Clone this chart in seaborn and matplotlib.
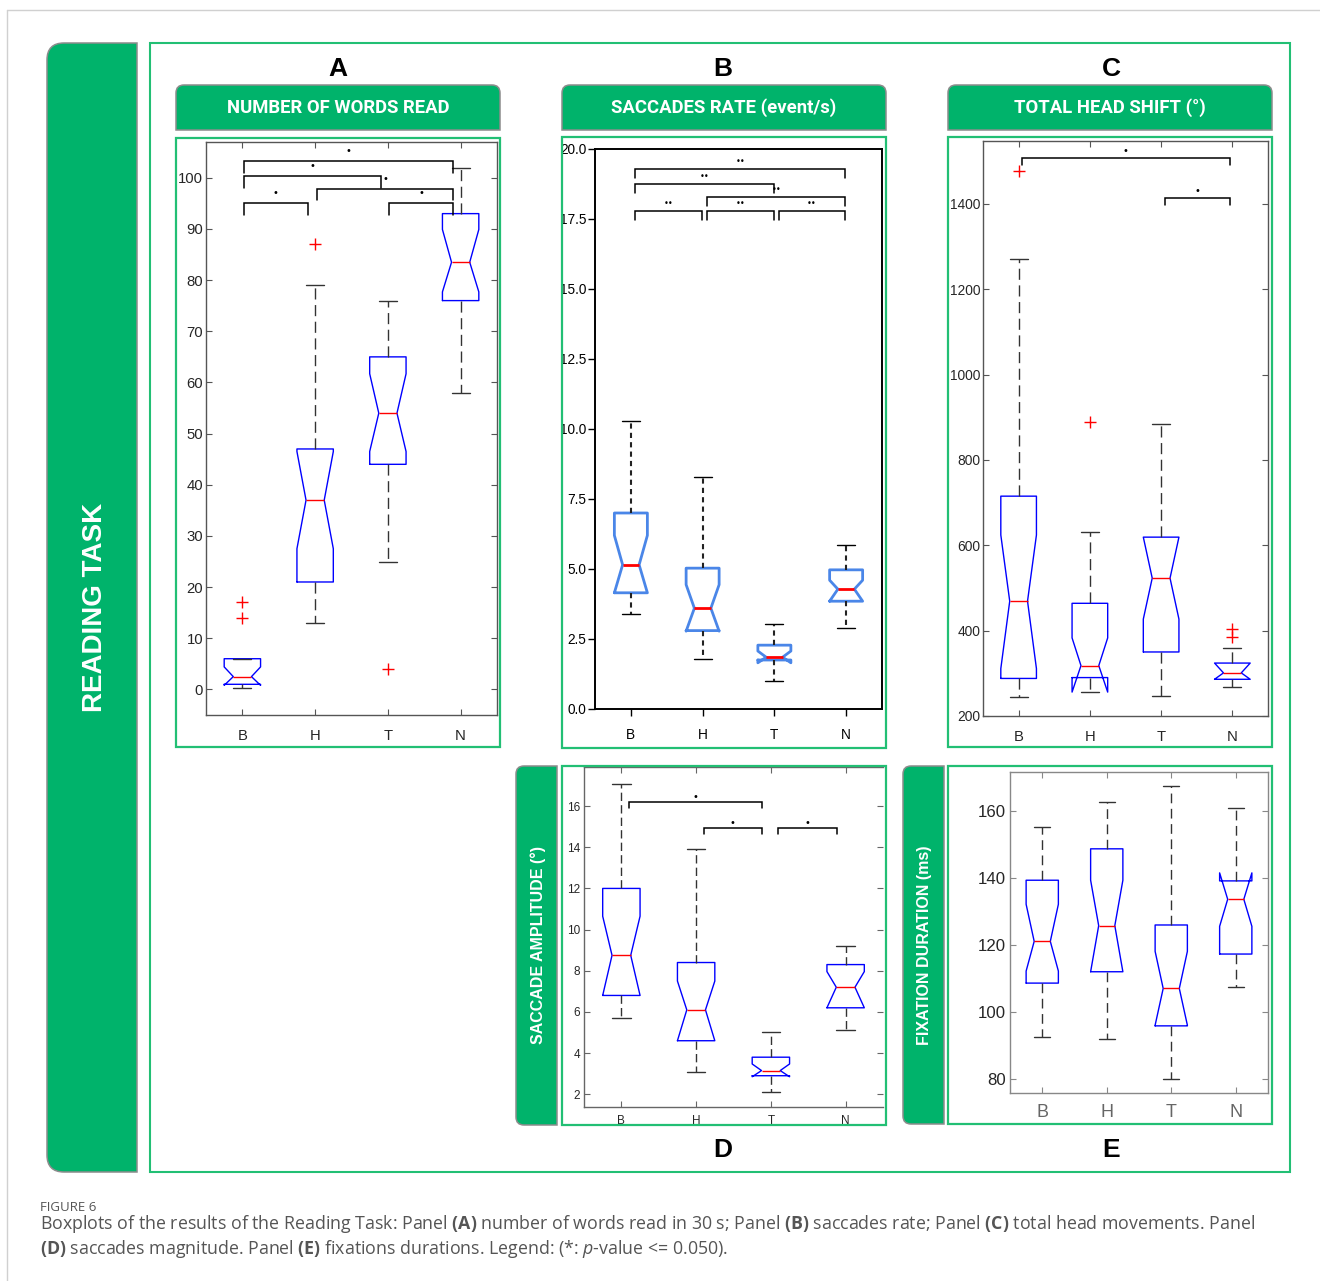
import matplotlib
matplotlib.use("Agg")
import numpy as np
import pandas as pd
import seaborn as sns
import matplotlib.pyplot as plt
from matplotlib.path import Path
from matplotlib.patches import PathPatch, Rectangle
from matplotlib import font_manager as fm

# ---------------- data ----------------
groups = ["B", "H", "T", "N"]

# Panel A: number of words read
words_whislo = [0.2, 13, 25, 58]
words_q1 = [1.0, 21, 44, 76]
words_med = [2.5, 37, 54, 83.5]
words_q3 = [6.0, 47, 65, 93]
words_whishi = [6.0, 79, 76, 102]
words_cilo = [0.8, 27.5, 46.5, 77.7]
words_cihi = [4.4, 46.5, 61.7, 89.9]
words_fliers = [[14, 17], [87], [4], []]
words_pairs = [("B", "N"), ("B", "T"), ("H", "N"), ("B", "H"), ("T", "N")]
words_sig_y = [103.2, 100.3, 97.8, 95.0, 95.0]
words_sig = ["*", "*", "*", "*", "*"]

# Panel B: saccades rate
rate_whislo = [3.4, 1.8, 1.0, 2.9]
rate_q1 = [4.15, 2.8, 1.75, 3.85]
rate_med = [5.15, 3.6, 1.85, 4.28]
rate_q3 = [7.0, 5.03, 2.28, 4.97]
rate_whishi = [10.3, 8.28, 3.05, 5.87]
rate_cilo = [4.15, 2.78, 1.65, 3.85]
rate_cihi = [6.2, 4.44, 2.07, 4.6]
rate_fliers = [[], [], [], []]
rate_pairs = [("B", "N"), ("B", "T"), ("H", "N"), ("B", "H"), ("H", "T"), ("T", "N")]
rate_sig_y = [19.3, 18.75, 18.3, 17.8, 17.8, 17.8]
rate_sig = ["**"] * 6

# Panel C: total head shift
head_whislo = [244, 256, 248, 267]
head_q1 = [288, 290, 350, 286]
head_med = [469, 318, 523, 301]
head_q3 = [715, 464, 619, 324]
head_whishi = [1271, 631, 883, 359]
head_cilo = [311, 256, 427, 286]
head_cihi = [624, 383, 619, 324]
head_fliers = [[1476], [888], [], [386, 404]]
head_pairs = [("B", "N"), ("T", "N")]
head_sig_y = [1508, 1414]
head_sig = ["*", "*"]

# Panel D: saccade amplitude
amp_whislo = [5.7, 3.1, 2.1, 5.1]
amp_q1 = [6.8, 4.6, 2.9, 6.2]
amp_med = [8.75, 6.1, 3.15, 7.2]
amp_q3 = [12.0, 8.4, 3.8, 8.3]
amp_whishi = [17.05, 13.9, 5.0, 9.2]
amp_cilo = [6.8, 4.6, 2.85, 6.2]
amp_cihi = [10.65, 7.5, 3.47, 7.96]
amp_fliers = [[], [], [], []]
amp_pairs = [("B", "T"), ("H", "T"), ("T", "N")]
amp_sig_y = [16.2, 14.95, 14.95]
amp_sig = ["*", "*", "*"]

# Panel E: fixation duration
fix_whislo = [92.6, 91.9, 80.0, 107.4]
fix_q1 = [108.6, 112.0, 95.8, 117.3]
fix_med = [121.1, 125.8, 107.0, 133.7]
fix_q3 = [139.4, 148.8, 126.0, 139.2]
fix_whishi = [155.3, 162.8, 167.5, 161.1]
fix_cilo = [112.2, 112.0, 96.0, 125.6]
fix_cihi = [132.2, 139.4, 118.1, 141.6]
fix_fliers = [[], [], [], []]

# ---------------- style ----------------
sns.set_theme(style="white")
plt.rcParams["font.family"] = ["Liberation Sans", "DejaVu Sans"]
plt.rcParams["mathtext.fontset"] = "custom"
plt.rcParams["mathtext.rm"] = "Open Sans"
plt.rcParams["mathtext.bf"] = "Open Sans:bold"
plt.rcParams["mathtext.it"] = "Open Sans:italic"

names = {f.name for f in fm.fontManager.ttflist}
HAS_NARROW = "Liberation Sans Narrow" in names
NARROW = "Liberation Sans Narrow" if HAS_NARROW else "Liberation Sans"
NS = 1.0 if HAS_NARROW else 0.93  # size factor for narrow labels

GREEN = "#00b36b"
FRAME = "#22bf74"
EDGE = "#8c8c8c"

W, H = 1320, 1281
fig = plt.figure(figsize=(W / 100, H / 100), dpi=100)
fig.patch.set_facecolor("white")


def rect(x0, y0, x1, y1):
    return [x0 / W, 1 - y1 / H, (x1 - x0) / W, (y1 - y0) / H]


def overlay_axes(z):
    a = fig.add_axes([0, 0, 1, 1], zorder=z)
    a.set_xlim(0, W)
    a.set_ylim(H, 0)
    a.axis("off")
    return a


bg = overlay_axes(0)
ov = overlay_axes(5)


def rpath(x0, y0, x1, y1, tl=0, tr=0, br=0, bl=0):
    v = [(x0 + tl, y0), (x1 - tr, y0), (x1, y0), (x1, y0 + tr), (x1, y1 - br),
         (x1, y1), (x1 - br, y1), (x0 + bl, y1), (x0, y1), (x0, y1 - bl),
         (x0, y0 + tl), (x0, y0), (x0 + tl, y0), (x0 + tl, y0)]
    c = [Path.MOVETO, Path.LINETO, Path.CURVE3, Path.CURVE3, Path.LINETO,
         Path.CURVE3, Path.CURVE3, Path.LINETO, Path.CURVE3, Path.CURVE3,
         Path.LINETO, Path.CURVE3, Path.CURVE3, Path.CLOSEPOLY]
    return Path(v, c)


def banner(ax, x0, y0, x1, y1, **kw):
    ax.add_patch(PathPatch(rpath(x0, y0, x1, y1, **kw), facecolor=GREEN,
                           edgecolor=EDGE, lw=1.1))


def frame(ax, x0, y0, x1, y1, lw=1.6):
    ax.add_patch(Rectangle((x0, y0), x1 - x0, y1 - y0, fill=False,
                           edgecolor=FRAME, lw=lw))


# page lines
bg.plot([7, W], [10, 10], color="#d0d0d0", lw=1.0)
bg.plot([7, 7], [10, H], color="#d0d0d0", lw=1.0)

# left banner
banner(bg, 47, 43, 137, 1172, tl=17, bl=17)
bg.text(95, 607, "READING TASK", rotation=90, color="white", fontsize=20,
        fontweight="bold", ha="center", va="center")

# header banners
for x0, txt in [(176, "NUMBER OF WORDS READ"), (562, "SACCADES RATE (event/s)"),
                (948, "TOTAL HEAD SHIFT (°)")]:
    banner(bg, x0, 85, x0 + 324, 130, tl=8, tr=8)
    bg.text(x0 + 162, 108, txt, color="white", fontsize=13.3, fontweight="bold",
            ha="center", va="center", family=["Roboto", "DejaVu Sans"])

# side banners
banner(bg, 516, 766, 557, 1125, tl=8, bl=8)
bg.text(538, 945, "SACCADE AMPLITUDE (°)", rotation=90, color="white",
        fontsize=11.5, fontweight="bold", ha="center", va="center")
banner(bg, 903, 766, 944, 1124, tl=8, bl=8)
bg.text(924, 945, "FIXATION DURATION (ms)", rotation=90, color="white",
        fontsize=11.5, fontweight="bold", ha="center", va="center")

# panel letters
for x, y, l in [(338, 69, "A"), (723, 69, "B"), (1111, 69, "C"),
                (723, 1150, "D"), (1111, 1150, "E")]:
    bg.text(x, y, l, fontsize=19, fontweight="bold", ha="center", va="center",
            color="black")


# ---------------- panels ----------------
def draw_box(ax, whislo, q1, med, q3, whishi, cilo, cihi, fliers, box_col, box_lw,
             med_lw, wh_col, wh_ls, wh_lw, cap_col, cap_lw, width, capw):
    stats = []
    for i, g in enumerate(groups):
        stats.append(dict(label=g, whislo=whislo[i], q1=q1[i], med=med[i], q3=q3[i],
                          whishi=whishi[i], cilo=cilo[i], cihi=cihi[i],
                          fliers=fliers[i]))
    ax.bxp(stats, positions=[1, 2, 3, 4], widths=width, capwidths=capw,
           shownotches=True, showfliers=True, patch_artist=False,
           boxprops=dict(color=box_col, lw=box_lw),
           medianprops=dict(color="red", lw=med_lw),
           whiskerprops=dict(color=wh_col, ls=wh_ls, lw=wh_lw),
           capprops=dict(color=cap_col, lw=cap_lw),
           flierprops=dict(marker="+", markeredgecolor="red", markersize=9,
                           markeredgewidth=1.0, ls="none"))
    ax.set_xlim(0.5, 4.5)
    ax.set_xticks([1, 2, 3, 4], groups)


def brackets(ax, pairs, ys, labels, lo, hi, drop, dy, fs):
    pos = {g: i + 1 for i, g in enumerate(groups)}
    for (a, b), y, lab in zip(pairs, ys, labels):
        x0, x1 = pos[a] + lo, pos[b] + hi
        ax.plot([x0, x0, x1, x1], [y - drop, y, y, y - drop], color="black", lw=1.1,
                solid_joinstyle="miter")
        ax.text((x0 + x1) / 2, y + dy, "•" * len(lab), ha="center", va="center",
                fontsize=fs, color="black", family="DejaVu Sans")


def matlab_axes(ax, spine_col, lab_col, fs, fam, pad_y, pad_x):
    for s in ax.spines.values():
        s.set_visible(True)
        s.set_color(spine_col)
        s.set_linewidth(1.0)
    ax.tick_params(axis="both", direction="in", top=True, right=True, bottom=True,
                   left=True, length=4, width=0.8, color=spine_col,
                   labelcolor=lab_col, labelsize=fs, labelfontfamily=fam)
    ax.tick_params(axis="y", pad=pad_y)
    ax.tick_params(axis="x", pad=pad_x)
    ax.set_facecolor("white")


# A
axA = fig.add_axes(rect(206, 142, 497, 715), zorder=2)
draw_box(axA, words_whislo, words_q1, words_med, words_q3, words_whishi, words_cilo,
         words_cihi, words_fliers, "#0000ff", 1.0, 1.0, "#333333", (0, (8, 4)), 1.0,
         "#333333", 1.0, 0.5, 0.25)
axA.set_ylim(-5, 107)
axA.set_yticks(np.arange(0, 101, 10))
matlab_axes(axA, "#555555", "#262626", 11.5 * NS, NARROW, 2, 10)
axA.tick_params(axis="x", labelsize=11.5 * NS)
brackets(axA, words_pairs, words_sig_y, words_sig, 0.02, -0.1, 2.2, 2.0, 7)

# B
axB = fig.add_axes(rect(595, 149, 882, 709), zorder=2)
draw_box(axB, rate_whislo, rate_q1, rate_med, rate_q3, rate_whishi, rate_cilo,
         rate_cihi, rate_fliers, "#4a86e8", 2.0, 2.0, "#222222", (0, (2.5, 2)), 1.5,
         "black", 1.0, 0.46, 0.25)
axB.set_ylim(0, 20)
axB.set_yticks(np.arange(0, 20.01, 2.5))
axB.set_yticklabels([f"{v:.1f}" for v in np.arange(0, 20.01, 2.5)])
for s in axB.spines.values():
    s.set_visible(True)
    s.set_color("black")
    s.set_linewidth(1.4)
axB.tick_params(axis="both", direction="out", length=5, width=1.0, color="black",
                labelcolor="black", labelsize=11 * NS * 0.96, labelfontfamily=NARROW,
                bottom=True, left=True, top=False, right=False)
axB.tick_params(axis="y", pad=1)
axB.tick_params(axis="x", pad=9)
axB.set_facecolor("white")
brackets(axB, rate_pairs, rate_sig_y, rate_sig, 0.06, -0.01, 0.33, 0.27, 6)

# C
axC = fig.add_axes(rect(983, 141, 1268, 716), zorder=2)
draw_box(axC, head_whislo, head_q1, head_med, head_q3, head_whishi, head_cilo,
         head_cihi, head_fliers, "#0000ff", 1.0, 1.0, "#333333", (0, (8, 4)), 1.0,
         "#333333", 1.0, 0.5, 0.25)
axC.set_ylim(200, 1547)
axC.set_yticks(np.arange(200, 1401, 200))
matlab_axes(axC, "#555555", "#262626", 11.5 * NS * 0.93, NARROW, 2, 10)
axC.tick_params(axis="x", labelsize=11.5 * NS)
brackets(axC, head_pairs, head_sig_y, head_sig, 0.05, -0.04, 18, 15, 7)

# D
axD = fig.add_axes(rect(584, 767, 883, 1107), zorder=2)
draw_box(axD, amp_whislo, amp_q1, amp_med, amp_q3, amp_whishi, amp_cilo,
         amp_cihi, amp_fliers, "#0000ff", 1.0, 1.0, "#333333", (0, (6, 3)), 1.0,
         "#333333", 1.0, 0.5, 0.25)
axD.set_ylim(1.38, 17.9)
axD.set_yticks(np.arange(2, 16.1, 2))
matlab_axes(axD, "#666666", "#262626", 8.5, "Liberation Sans", 3, 6)
axD.spines["right"].set_visible(False)
brackets(axD, amp_pairs, amp_sig_y, amp_sig, 0.1, -0.12, 0.3, 0.25, 7)

# E
axE = fig.add_axes(rect(1010, 772, 1268, 1093), zorder=2)
draw_box(axE, fix_whislo, fix_q1, fix_med, fix_q3, fix_whishi, fix_cilo,
         fix_cihi, fix_fliers, "#0000ff", 1.0, 1.0, "#333333", (0, (7, 4)), 1.0,
         "#333333", 1.0, 0.5, 0.25)
axE.set_ylim(75.7, 171.8)
axE.set_yticks(np.arange(80, 161, 20))
matlab_axes(axE, "#888888", "#262626", 13 * NS, NARROW, 3, 8)
axE.tick_params(axis="x", labelcolor="#666666", labelsize=13,
                labelfontfamily="Liberation Sans")

# ---------------- frames (overlay) ----------------
frame(ov, 150, 43, 1290, 1172, lw=1.5)
frame(ov, 176, 138, 500, 747)
frame(ov, 562, 137, 886, 748)
frame(ov, 948, 137, 1272, 747)
ov.add_patch(Rectangle((560, 1126.5), 330, 12, facecolor="white", edgecolor="none"))
frame(ov, 562, 766, 886, 1125)
frame(ov, 948, 766, 1272, 1124)

# ---------------- caption ----------------
bg.text(40, 1211, "FIGURE 6", fontsize=9.5, color="#555555", ha="left",
        va="baseline", family=["Open Sans", "DejaVu Sans"])
line1 = (r"Boxplots of the results of the Reading Task: Panel $\mathbf{(A)}$ number of "
         r"words read in 30 s; Panel $\mathbf{(B)}$ saccades rate; Panel $\mathbf{(C)}$ "
         r"total head movements. Panel")
line2 = (r"$\mathbf{(D)}$ saccades magnitude. Panel $\mathbf{(E)}$ fixations durations. "
         r"Legend: (*: $\mathit{p}$-value <= 0.050).")
t1 = bg.text(40, 1229, line1, fontsize=12, color="#555555", ha="left", va="baseline",
             family=["Open Sans", "DejaVu Sans"])
t2 = bg.text(40, 1254, line2, fontsize=12, color="#555555", ha="left", va="baseline",
             family=["Open Sans", "DejaVu Sans"])
r = fig.canvas.get_renderer()
wpx = t1.get_window_extent(renderer=r).width
fs = 12 * 1216 / wpx
t1.set_fontsize(fs)
t2.set_fontsize(fs)

fig.savefig("out.png", dpi=100, facecolor="white")
